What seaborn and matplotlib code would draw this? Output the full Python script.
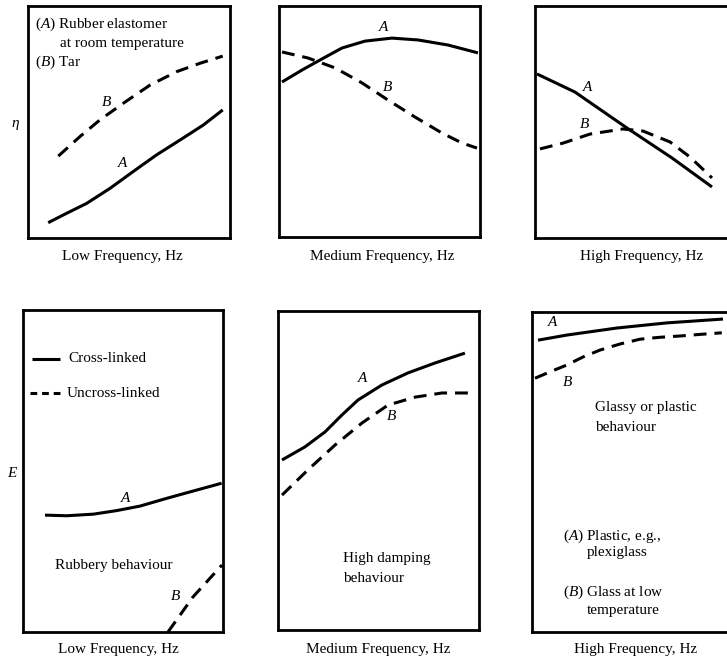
import matplotlib
matplotlib.use("Agg")
import matplotlib.pyplot as plt
import seaborn as sns
import pandas as pd

sns.set_theme(style="white")
plt.rcParams['font.family'] = ['Liberation Serif', 'DejaVu Serif']
plt.rcParams['mathtext.fontset'] = 'custom'
plt.rcParams['mathtext.rm'] = 'Liberation Serif'
plt.rcParams['mathtext.it'] = 'Liberation Serif:italic'

# ---- data (normalised frequency 0..1, normalised property 0..1) ----
low_eta_A_x = [0.10, 0.19, 0.29, 0.406, 0.52, 0.636, 0.752, 0.868, 0.964]
low_eta_A_y = [0.066, 0.106, 0.149, 0.214, 0.286, 0.358, 0.422, 0.487, 0.552]
low_eta_B_x = [0.15, 0.257, 0.356, 0.472, 0.604, 0.736, 0.851, 0.964]
low_eta_B_y = [0.353, 0.437, 0.509, 0.581, 0.659, 0.717, 0.753, 0.784]

med_eta_A_x = [0.015, 0.115, 0.214, 0.313, 0.428, 0.562, 0.692, 0.841, 0.99]
med_eta_A_y = [0.671, 0.723, 0.771, 0.818, 0.848, 0.861, 0.853, 0.831, 0.797]
med_eta_B_x = [0.015, 0.144, 0.279, 0.413, 0.542, 0.677, 0.811, 0.91, 0.985]
med_eta_B_y = [0.801, 0.775, 0.732, 0.667, 0.593, 0.519, 0.45, 0.407, 0.385]

high_eta_A_x = [0.01, 0.20, 0.46, 0.685, 0.885]
high_eta_A_y = [0.707, 0.629, 0.474, 0.345, 0.22]
high_eta_B_x = [0.025, 0.14, 0.275, 0.44, 0.54, 0.675, 0.775, 0.885]
high_eta_B_y = [0.384, 0.409, 0.448, 0.470, 0.461, 0.414, 0.349, 0.259]

low_E_A_x = [0.11, 0.218, 0.352, 0.468, 0.585, 0.718, 0.852, 0.993]
low_E_A_y = [0.363, 0.361, 0.366, 0.377, 0.391, 0.415, 0.438, 0.462]
low_E_B_x = [0.725, 0.85, 0.995]
low_E_B_y = [0.0, 0.109, 0.208]

med_E_A_x = [0.02, 0.134, 0.234, 0.318, 0.398, 0.517, 0.647, 0.781, 0.93]
med_E_A_y = [0.533, 0.574, 0.621, 0.674, 0.721, 0.768, 0.806, 0.837, 0.868]
med_E_B_x = [0.02, 0.149, 0.284, 0.418, 0.547, 0.682, 0.816, 0.965]
med_E_B_y = [0.423, 0.502, 0.580, 0.649, 0.705, 0.730, 0.743, 0.743]

high_E_A_x = [0.03, 0.175, 0.425, 0.675, 0.955]
high_E_A_y = [0.912, 0.928, 0.95, 0.966, 0.978]
high_E_B_x = [0.015, 0.09, 0.173, 0.257, 0.34, 0.44, 0.54, 0.64, 0.74, 0.84, 0.949]
high_E_B_y = [0.793, 0.813, 0.834, 0.860, 0.881, 0.90, 0.915, 0.921, 0.925, 0.93, 0.935]

x_labels = ["Low Frequency, Hz", "Medium Frequency, Hz", "High Frequency, Hz"]
y_labels = [r"$\mathit{\eta}$", r"$\mathit{E}$"]

W, H = 727, 660
fig = plt.figure(figsize=(W / 100, H / 100), dpi=100)

def px_axes(x0, y0, x1, y1):
    return fig.add_axes([x0 / W, (H - y1) / H, (x1 - x0) / W, (y1 - y0) / H])

rects = [(28, 6, 230, 238), (279, 6, 480, 237), (535, 6, 735, 238),
         (23, 310, 223, 632), (278, 311, 479, 630), (532, 312, 732, 632)]
axes = [px_axes(*r) for r in rects]

LW = 2.2
DASH = (4.2, 2.6)

def draw(ax, xs, ys, dashed=False):
    df = pd.DataFrame({"f": xs, "v": ys})
    sns.lineplot(data=df, x="f", y="v", ax=ax, color="black", lw=LW)
    ln = ax.lines[-1]
    ln.set_solid_capstyle("butt")
    ln.set_solid_joinstyle("round")
    if dashed:
        ln.set_dashes(DASH)

series = [
    (low_eta_A_x, low_eta_A_y, low_eta_B_x, low_eta_B_y),
    (med_eta_A_x, med_eta_A_y, med_eta_B_x, med_eta_B_y),
    (high_eta_A_x, high_eta_A_y, high_eta_B_x, high_eta_B_y),
    (low_E_A_x, low_E_A_y, low_E_B_x, low_E_B_y),
    (med_E_A_x, med_E_A_y, med_E_B_x, med_E_B_y),
    (high_E_A_x, high_E_A_y, high_E_B_x, high_E_B_y),
]

for ax, (ax_, ay, bx, by) in zip(axes, series):
    draw(ax, ax_, ay)
    draw(ax, bx, by, dashed=True)
    ax.set_xlim(0, 1)
    ax.set_ylim(0, 1)
    ax.set_xticks([])
    ax.set_yticks([])
    ax.set_xlabel("")
    ax.set_ylabel("")
    for s in ax.spines.values():
        s.set_visible(True)
        s.set_color("black")
        s.set_linewidth(2.0)

FS = 11
def lab(ax, x, y, s, **kw):
    ax.text(x, y, s, transform=ax.transAxes, fontsize=FS, color="black", **kw)

def italic(ax, x, y, s):
    ax.text(x, y, s, transform=ax.transAxes, fontsize=FS, color="black",
            style="italic", ha="center", va="center")

# panel 1
italic(axes[0], 0.47, 0.323, "A")
italic(axes[0], 0.39, 0.586, "B")
lab(axes[0], 0.035, 0.922, r"($\mathit{A}$) Rubber elastomer", va="center")
lab(axes[0], 0.16, 0.84, "at room temperature", va="center")
lab(axes[0], 0.035, 0.759, r"($\mathit{B}$) Tar", va="center")
# panel 2
italic(axes[1], 0.52, 0.905, "A")
italic(axes[1], 0.54, 0.649, "B")
# panel 3
italic(axes[2], 0.265, 0.65, "A")
italic(axes[2], 0.25, 0.49, "B")
# panel 4
italic(axes[3], 0.515, 0.416, "A")
italic(axes[3], 0.765, 0.109, "B")
axes[3].plot([0.045, 0.185], [0.848, 0.848], color="black", lw=LW,
             transform=axes[3].transAxes, solid_capstyle="butt")
leg_d, = axes[3].plot([0.035, 0.185], [0.742, 0.742], color="black", lw=LW,
                      transform=axes[3].transAxes)
leg_d.set_dashes((2.2, 1.6))
lab(axes[3], 0.225, 0.848, "Cross-linked", va="center")
lab(axes[3], 0.22, 0.742, "Uncross-linked", va="center")
lab(axes[3], 0.16, 0.205, "Rubbery behaviour", va="center")
# panel 5
italic(axes[4], 0.42, 0.787, "A")
italic(axes[4], 0.565, 0.668, "B")
lab(axes[4], 0.325, 0.223, "High damping", va="center")
lab(axes[4], 0.325, 0.163, "behaviour", va="center")
# panel 6
italic(axes[5], 0.105, 0.966, "A")
italic(axes[5], 0.18, 0.781, "B")
lab(axes[5], 0.315, 0.70, "Glassy or plastic", va="center")
lab(axes[5], 0.315, 0.64, "behaviour", va="center")
lab(axes[5], 0.155, 0.30, r"($\mathit{A}$) Plastic, e.g.,", va="center")
lab(axes[5], 0.275, 0.247, "plexiglass", va="center")
lab(axes[5], 0.155, 0.125, r"($\mathit{B}$) Glass at low", va="center")
lab(axes[5], 0.275, 0.066, "temperature", va="center")

# axis labels (figure pixel positions)
def ftext(x, y, s, **kw):
    fig.text(x / W, (H - y) / H, s, fontsize=FS, color="black",
             ha="center", va="center", **kw)

for xc, s in zip([122, 382, 642], x_labels):
    ftext(xc, 256, s)
for xc, s in zip([118, 378, 636], x_labels):
    ftext(xc, 649, s)
ftext(15, 125, y_labels[0])
ftext(13, 473, y_labels[1])

fig.savefig("out.png", dpi=100, facecolor="white")
